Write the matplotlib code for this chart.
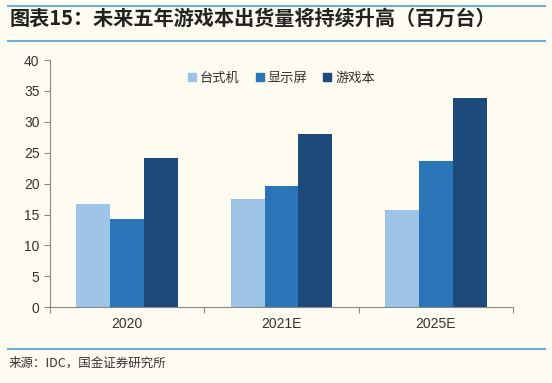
import numpy as np
from matplotlib import pyplot as plt
from matplotlib.lines import Line2D

plt.rcParams['font.family'] = ['Noto Sans CJK SC', 'DejaVu Sans']

categories = ['2020', '2021E', '2025E']
series_names = ['台式机', '显示屏', '游戏本']
desktop = [16.7, 17.5, 15.7]
monitor = [14.3, 19.7, 23.6]
laptop = [24.1, 28.0, 33.8]
colors = ['#9DC3E6', '#2A74B8', '#1C4A7A']

title = '图表15：未来五年游戏本出货量将持续升高（百万台）'
source = '来源：IDC，国金证券研究所'

bg = '#FEFBF0'
line_color = '#6BB0D0'


def main():
    fig = plt.figure(figsize=(5.52, 3.83), dpi=100, facecolor=bg)
    ax = fig.add_axes([50 / 552, (383 - 307.3) / 383, 463 / 552, 247.3 / 383])
    ax.set_facecolor(bg)

    x = np.arange(len(categories))
    w = 0.22
    for i, vals in enumerate([desktop, monitor, laptop]):
        ax.bar(x + (i - 1) * w, vals, width=w, color=colors[i], label=series_names[i])

    ax.set_xlim(-0.5, len(categories) - 0.5)
    ax.set_ylim(0, 40)
    ax.set_yticks(range(0, 41, 5))
    ax.set_xticks(np.arange(-0.5, len(categories), 1.0), minor=False)
    ax.set_xticklabels([])
    ax.set_xticks(x, minor=True)
    ax.set_xticklabels(categories, minor=True, fontsize=10, color='#333333',
                       family=['Liberation Sans', 'DejaVu Sans'])
    ax.tick_params(axis='x', which='minor', length=0, pad=7)
    ax.tick_params(axis='x', which='major', length=4, color='#888888', direction='out')
    ax.tick_params(axis='y', length=4, color='#888888', labelsize=10, labelcolor='#333333')
    for lab in ax.get_yticklabels():
        lab.set_family(['Liberation Sans', 'DejaVu Sans'])

    for s in ['top', 'right']:
        ax.spines[s].set_visible(False)
    ax.spines['left'].set_color('#888888')
    ax.spines['bottom'].set_color('#888888')

    handles = [Line2D([], [], marker='s', linestyle='', markersize=6,
                      color=c) for c in colors]
    ax.legend(handles, series_names, loc='upper center', bbox_to_anchor=(0.5, 1.0),
              ncol=3, frameon=False, fontsize=9.5, handlelength=0.6, handletextpad=0.3,
              columnspacing=1.2, labelcolor='#333333')

    # header and footer
    for yy in [6, 41, 349]:
        fig.add_artist(Line2D([8 / 552, 545 / 552], [1 - yy / 383, 1 - yy / 383],
                              color=line_color, lw=1.5))
    fig.text(10 / 552, 1 - 18 / 383, title, fontsize=14.5, fontweight='bold',
             color='#222222', va='center', ha='left')
    fig.text(9 / 552, 1 - 363 / 383, source, fontsize=9, color='#333333',
             va='center', ha='left')

    fig.savefig('out.png', dpi=100, facecolor=bg)


if __name__ == '__main__':
    main()
